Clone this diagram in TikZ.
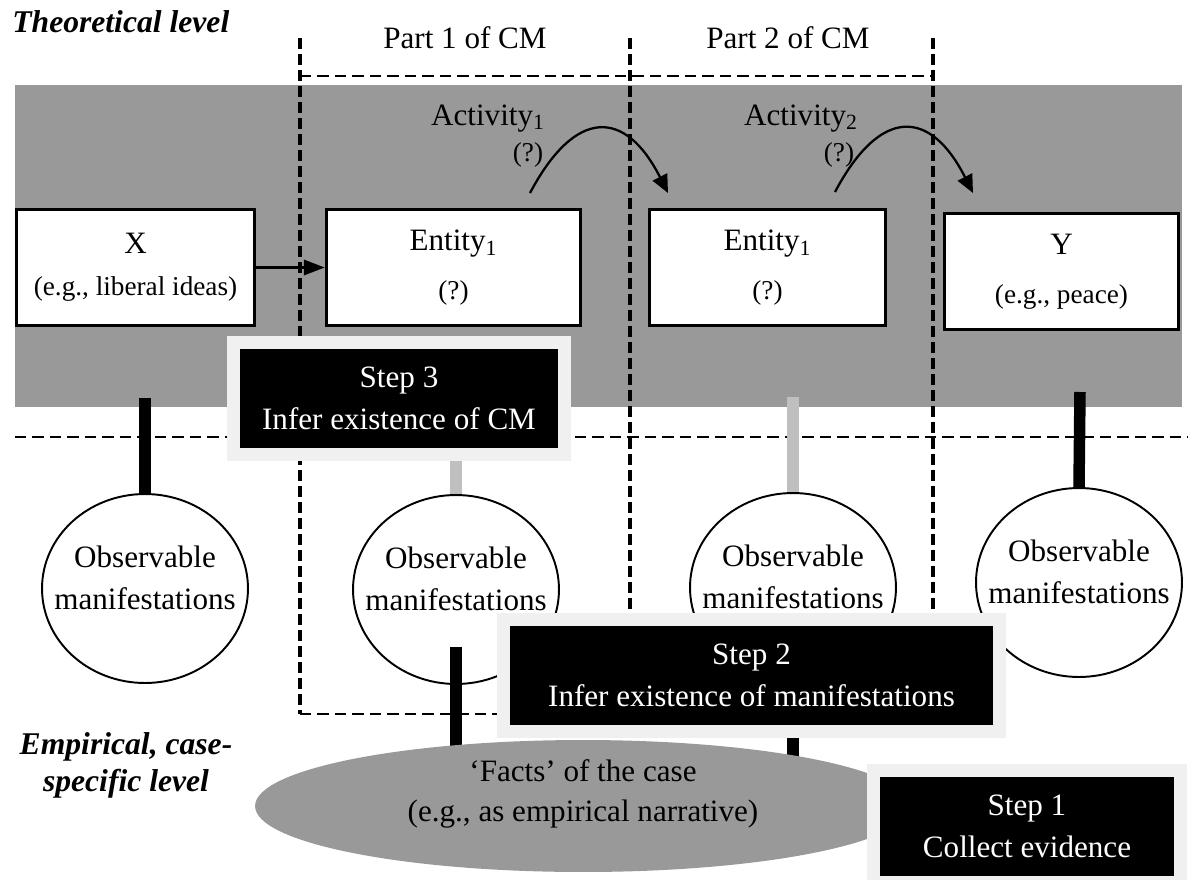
\documentclass[tikz,border=0pt]{standalone}
\usepackage{fontspec}
\setmainfont{Liberation Serif}
\usetikzlibrary{shapes.geometric}
\usetikzlibrary{arrows.meta}
\definecolor{bandgray}{HTML}{999999}
\definecolor{barlight}{HTML}{BFBFBF}
\definecolor{stepframe}{HTML}{F0F0F0}
\newcommand{\smalltext}[1]{{\fontsize{15.5}{18}\selectfont #1}}

\begin{document}
\begin{tikzpicture} [
          x=0.02cm, y=-0.02cm,
          every node/.style = {font=\fontsize{17.7}{24}\selectfont},
          box/.style = {draw, fill=white, line width=1.9pt, inner sep=0pt, minimum height=2.32cm, align=center},
          obs/.style = {ellipse, draw, fill=white, line width=1.1pt, minimum width=4.12cm, minimum height=3.78cm, inner sep=0pt},
          obstext/.style = {align=center},
          stepbox/.style = {fill=black, draw=stepframe, line width=0.26cm, text=white, minimum height=2.24cm, align=center},
          bar/.style = {line width=0.23cm},
          dashline/.style = {line width=1.6pt, dash pattern=on 0.23cm off 0.12cm},
          vdashline/.style = {line width=2pt, dash pattern=on 0.22cm off 0.1cm},
          activity/.style = {line width=1.3pt, -{Triangle[length=3.6mm,width=3.2mm]}},
          level/.style = {font=\fontsize{18}{21}\selectfont\bfseries\itshape, align=center}
          ]
          \useasboundingbox (0,0) rectangle (1188,880);
          % theoretical band
          \fill[bandgray] (15,85) rectangle (1182,407);
          \draw[dashline] (15,437) -- (1188,437);
          % the two parts of CM
          \draw[dashline] (300,76) -- (933,76);
          \draw[dashline] (300,714) -- (933,714);
          \draw[vdashline] (300,38) -- (300,714);
          \draw[vdashline] (630,38) -- (630,714);
          \draw[vdashline] (933,38) -- (933,714);
          \node[anchor=base] (part1) at (465,48) {Part 1 of CM};
          \node[anchor=base] (part2) at (788,48) {Part 2 of CM};

          \node[box, minimum width=4.76cm] (cause) at (135.5,267.5) {X\\\smalltext{(e.g., liberal ideas)}};
          \node[box, minimum width=5.08cm] (ent1) at (453.5,267.5) {Entity\textsubscript{1}\\[3.5pt]\smalltext{(?)}};
          \node[box, minimum width=4.72cm] (ent2) at (767.5,267.5) {Entity\textsubscript{1}\\[3.5pt]\smalltext{(?)}};
          \node[box, minimum width=4.68cm] (outcome) at (1061.5,271.5) {Y\\[4pt]\smalltext{(e.g., peace)}};
          \draw[line width=1.9pt, -{Triangle[length=4.2mm,width=3mm]}] (cause) -- (ent1);

          \coordinate (act1from) at (530,193);
          \coordinate (act1to) at (668,193);
          \coordinate (act2from) at (835,192);
          \coordinate (act2to) at (973,193);
          \draw[activity] (act1from) .. controls +(45,-85) and +(-43,-85) .. (act1to);
          \draw[activity] (act2from) .. controls +(45,-85) and +(-43,-85) .. (act2to);
          \node[anchor=base] (act1) at (488,125) {Activity\textsubscript{1}};
          \node[anchor=base] (q1) at (528,161) {\smalltext{(?)}};
          \node[anchor=base] (act2) at (801,125) {Activity\textsubscript{2}};
          \node[anchor=base] (q2) at (839,161) {\smalltext{(?)}};

          % observable manifestations
          \node[obs] (obsx) at (145,588.5) {};
          \node[obs] (obs1) at (456,589.5) {};
          \node[obs] (obs2) at (793,587.5) {};
          \node[obs] (obsy) at (1079,582.5) {};
          \node[obstext] (obsxtext) at (145,577.5) {Observable\\manifestations};
          \node[obstext] (obs1text) at (456,578.5) {Observable\\manifestations};
          \node[obstext] (obs2text) at (793,576.5) {Observable\\manifestations};
          \node[obstext] (obsytext) at (1079,571.5) {Observable\\manifestations};

          \coordinate (causefoot) at (145,398);
          \coordinate (ent1foot) at (456,400);
          \coordinate (ent2foot) at (793,397);
          \coordinate (outcomefoot) at (1080,392);
          \draw[bar] (causefoot) -- (obsx.north);
          \draw[bar, barlight] (ent1foot) -- (obs1.north);
          \draw[bar, barlight] (ent2foot) -- (obs2.north);
          \draw[bar] (outcomefoot) -- (obsy.north);
          \coordinate (obs1low) at (456,647);
          \coordinate (facts1) at (456,770);
          \coordinate (step2low) at (793,700);
          \coordinate (facts2) at (793,780);
          \draw[bar] (obs1low) -- (facts1);
          \draw[bar] (step2low) -- (facts2);

          % facts of the case
          \node[ellipse, fill=bandgray, minimum width=13.12cm, minimum height=2.64cm] (facts) at (583,806) {};
          \node[align=center] (factstext) at (583,794) {‘Facts’ of the case\\[-1pt](e.g., as empirical narrative)};

          % steps
          \node[stepbox, minimum width=6.62cm] (step3) at (399,398.5) {Step 3\\Infer existence of CM};
          \node[stepbox, minimum width=9.92cm] (step2) at (751.5,675.5) {Step 2\\Infer existence of manifestations};
          \node[stepbox, minimum width=6.14cm] (step1) at (1027,826.5) {Step 1\\Collect evidence};

          \node[level, anchor=base west, inner sep=0pt] (theory) at (12,32) {Theoretical level};
          \node[level] (empirics) at (126,765) {Empirical, case-\\specific level};
        \end{tikzpicture}
\end{document}
